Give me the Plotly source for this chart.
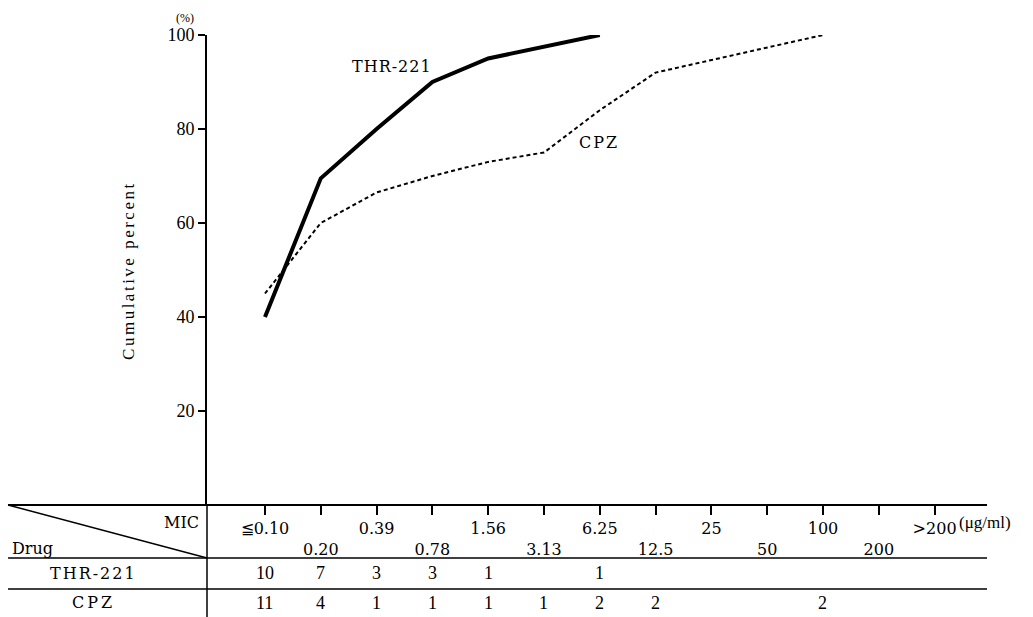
import plotly.graph_objects as go

# ---- data ----
mic_labels = ["≦0.10", "0.20", "0.39", "0.78", "1.56", "3.13", "6.25",
              "12.5", "25", "50", "100", "200", ">200"]
thr_cum = [40, 69.5, 80, 90, 95, None, 100, None, None, None, None, None, None]
cpz_cum = [45, 60, 66.5, 70, 73, 75, 84, 92, None, None, 100, None, None]
thr_counts = [10, 7, 3, 3, 1, None, 1, None, None, None, None, None, None]
cpz_counts = [11, 4, 1, 1, 1, 1, 2, 2, None, None, 2, None, None]
y_ticks = [20, 40, 60, 80, 100]

idx = list(range(len(mic_labels)))
SERIF = "Liberation Serif"
TSERIF = "DejaVu Serif"

def spaced(t, s):
    return f'<span style="letter-spacing:{s}px">{t}</span>'

fig = go.Figure()
fig.add_trace(go.Scatter(x=idx, y=cpz_cum, mode="lines", connectgaps=True,
                         line=dict(color="black", width=2, dash="4px,3px"),
                         showlegend=False))
fig.add_trace(go.Scatter(x=idx, y=thr_cum, mode="lines", connectgaps=True,
                         line=dict(color="black", width=4),
                         showlegend=False))

tick_text = [("" if i % 2 == 0 else "<br>") + lab for i, lab in enumerate(mic_labels)]

fig.update_layout(
    width=1033, height=617,
    margin=dict(l=207, r=43, t=35, b=112),
    plot_bgcolor="white", paper_bgcolor="white",
    font=dict(family=SERIF, color="black"),
    xaxis=dict(range=[-1.039, 12.993], showgrid=False, zeroline=False,
               showline=False, tickmode="array", tickvals=idx, ticktext=tick_text,
               ticks="outside", ticklen=9, tickwidth=2, tickcolor="black",
               tickfont=dict(family=TSERIF, size=16, color="black")),
    yaxis=dict(range=[0, 100], showgrid=False, zeroline=False,
               showline=True, linewidth=2, linecolor="black",
               tickmode="array", tickvals=y_ticks,
               ticks="outside", ticklen=7, tickwidth=2, tickcolor="black",
               tickfont=dict(family=SERIF, size=18, color="black")),
)

# table / frame lines (paper coords)
line = dict(color="black", width=1.5)
shapes = [
    dict(type="line", xref="paper", yref="paper", x0=-0.2541, x1=0.9962, y0=0, y1=0,
         line=dict(color="black", width=2)),
    dict(type="line", xref="paper", yref="paper", x0=-0.2541, x1=0.9962, y0=-0.1128, y1=-0.1128, line=line),
    dict(type="line", xref="paper", yref="paper", x0=-0.2541, x1=0.9962, y0=-0.1787, y1=-0.1787, line=line),
    dict(type="line", xref="paper", yref="paper", x0=-0.2541, x1=0, y0=0, y1=-0.1128, line=line),
    dict(type="line", xref="paper", yref="paper", x0=0, x1=0, y0=0, y1=-0.2383, line=line),
]
fig.update_layout(shapes=shapes)

ann = []
tfont = dict(family=TSERIF, size=16, color="black")
# header
ann.append(dict(text="MIC", xref="paper", yref="paper", x=-0.008, y=-0.0362,
                xanchor="right", yanchor="middle", showarrow=False, font=tfont))
ann.append(dict(text="Drug", xref="paper", yref="paper", x=-0.2515, y=-0.0915,
                xanchor="left", yanchor="middle", showarrow=False, font=tfont))
ann.append(dict(text="(μg/ml)", xref="x", yref="paper", x=12, xshift=22, y=-0.0362,
                xanchor="left", yanchor="middle", showarrow=False,
                font=dict(family=SERIF, size=17, color="black")))
# row labels
ann.append(dict(text=spaced("THR-221", 2), xref="paper", yref="paper", x=-0.145, y=-0.1447,
                xanchor="center", yanchor="middle", showarrow=False, font=tfont))
ann.append(dict(text=spaced("CPZ", 3), xref="paper", yref="paper", x=-0.145, y=-0.2085,
                xanchor="center", yanchor="middle", showarrow=False, font=tfont))
# counts
for i, c in enumerate(thr_counts):
    if c is not None:
        ann.append(dict(text=str(c), xref="x", yref="paper", x=i, y=-0.1447,
                        xanchor="center", yanchor="middle", showarrow=False,
                        font=dict(family=SERIF, size=18, color="black")))
for i, c in enumerate(cpz_counts):
    if c is not None:
        ann.append(dict(text=str(c), xref="x", yref="paper", x=i, y=-0.2085,
                        xanchor="center", yanchor="middle", showarrow=False,
                        font=dict(family=SERIF, size=18, color="black")))
# axis decorations
ann.append(dict(text="(%)", xref="paper", yref="paper", x=-0.028, y=1.036,
                xanchor="center", yanchor="middle", showarrow=False,
                font=dict(family=SERIF, size=12, color="black")))
ann.append(dict(text=spaced("Cumulative percent", 2.5), xref="paper", yref="paper",
                x=-0.101, y=0.5, textangle=-90, xanchor="center", yanchor="middle",
                showarrow=False, font=dict(family=SERIF, size=17, color="black")))
# series labels
ann.append(dict(text=spaced("THR-221", 1), xref="x", yref="y", x=2.28, y=93.2,
                xanchor="center", yanchor="middle", showarrow=False, font=tfont))
ann.append(dict(text=spaced("CPZ", 2), xref="x", yref="y", x=5.99, y=77.2,
                xanchor="center", yanchor="middle", showarrow=False, font=tfont))
fig.update_layout(annotations=ann)

fig.write_html("out.html")
